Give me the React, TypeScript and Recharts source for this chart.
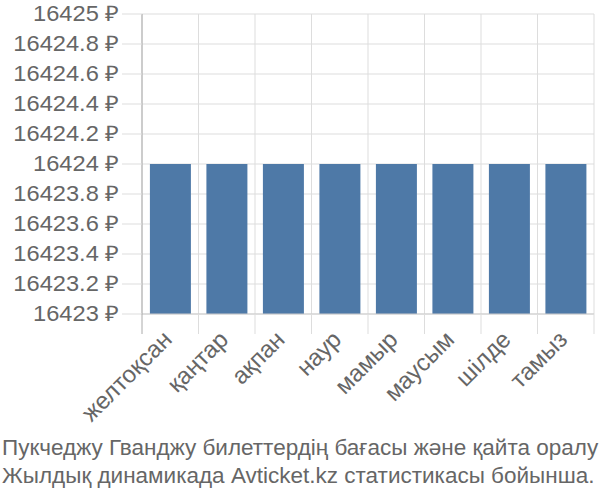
import React from "react";
import { BarChart, Bar, XAxis, YAxis, CartesianGrid } from "recharts";

const categories = ["желтоқсан", "қаңтар", "ақпан", "наур", "мамыр", "маусым", "шілде", "тамыз"];
const prices = [16424, 16424, 16424, 16424, 16424, 16424, 16424, 16424];
const yTicks = [16423, 16423.2, 16423.4, 16423.6, 16423.8, 16424, 16424.2, 16424.4, 16424.6, 16424.8, 16425];
const captionLines = [
  "Пукчеджу Гванджу билеттердің бағасы және қайта оралу",
  "Жылдық динамикада Avticket.kz статистикасы бойынша.",
];

const data = categories.map((c, i) => ({ month: c, price: prices[i] }));

const W = 600;
const H = 500;
const M_TOP = 14;
const M_RIGHT = 6;
const Y_W = 142;
const X_H = 110;
const M_BOTTOM = 500 - 314 - X_H;
const PLOT_W = W - Y_W - M_RIGHT;
const BW = PLOT_W / categories.length;
const TEXT = "#666";
const GRID = "#ddd";
const FONT = "'Liberation Sans', Arial, sans-serif";

const fmt = (v: number) => `${Number(v.toFixed(1))} ₽`;

const YTick = (props: any) => {
  const { x, y, payload } = props;
  return (
    <text
      x={x}
      y={y}
      textAnchor="end"
      dominantBaseline="central"
      fill={TEXT}
      fontSize={21.5}
      fontFamily={FONT}
      transform={`translate(${x},${y}) scale(1.1,1) translate(${-x},${-y})`}
    >
      {fmt(payload.value)}
    </text>
  );
};

const XTick = (props: any) => {
  const { x, y, payload, index } = props;
  const left = x - BW / 2;
  const right = x + BW / 2;
  const top = y - 20;
  const ax = x + 3;
  const ay = y + 7;
  return (
    <g>
      <line x1={left} x2={left} y1={top} y2={y} stroke={index === 0 ? "#aaa" : GRID} strokeWidth={1} />
      {index === categories.length - 1 && (
        <line x1={right} x2={right} y1={top} y2={y} stroke={GRID} strokeWidth={1} />
      )}
      <text
        x={ax}
        y={ay}
        transform={`rotate(-45, ${ax}, ${ay})`}
        textAnchor="end"
        fill={TEXT}
        fontSize={24}
        fontFamily={FONT}
      >
        {payload.value}
      </text>
    </g>
  );
};

export default function App() {
  return (
    <div style={{ position: "absolute", left: 0, top: 0, width: W, height: H, background: "#fff" }}>
      <BarChart
        width={W}
        height={H}
        data={data}
        margin={{ top: M_TOP, right: M_RIGHT, left: 0, bottom: M_BOTTOM }}
        barCategoryGap="14%"
      >
        <CartesianGrid
          stroke={GRID}
          verticalCoordinatesGenerator={({ offset }: any) =>
            categories.map((_, i) => offset.left + (i * offset.width) / categories.length).concat([offset.left + offset.width])
          }
        />
        <XAxis
          dataKey="month"
          interval={0}
          height={X_H}
          tickSize={20}
          tickMargin={0}
          tickLine={false}
          axisLine={{ stroke: "#ccc" }}
          tick={<XTick />}
        />
        <YAxis
          width={Y_W}
          domain={[yTicks[0], yTicks[yTicks.length - 1]]}
          ticks={yTicks}
          interval={0}
          tickSize={20}
          tickMargin={3}
          tickLine={{ stroke: GRID }}
          axisLine={{ stroke: "#aaa" }}
          tick={<YTick />}
          allowDataOverflow
        />
        <Bar dataKey="price" fill="#4e79a7" isAnimationActive={false} />
      </BarChart>
      <div
        style={{
          position: "absolute",
          left: 2,
          top: 434,
          width: W,
          fontFamily: FONT,
          fontSize: 22.5,
          lineHeight: "28px",
          color: TEXT,
          whiteSpace: "nowrap",
        }}
      >
        {captionLines.map((l, i) => (
          <div key={i}>{l}</div>
        ))}
      </div>
    </div>
  );
}
